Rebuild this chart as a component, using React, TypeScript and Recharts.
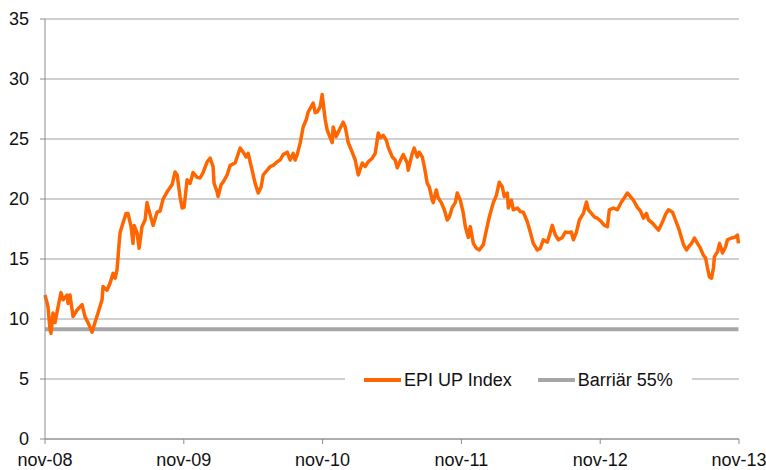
import React from "react";
import { LineChart, Line, XAxis, YAxis, CartesianGrid, Legend } from "recharts";

// time in years since nov-08
const timeYears = [
  0, 0.022, 0.036, 0.043, 0.058, 0.072, 0.094, 0.115, 0.13, 0.159, 0.166, 0.18, 0.202, 0.231, 0.267, 0.288, 0.31, 0.339, 0.36, 0.382,
  0.411, 0.418, 0.447, 0.469, 0.49, 0.505, 0.519, 0.534, 0.541, 0.562, 0.584, 0.598, 0.62, 0.634, 0.642, 0.663, 0.678, 0.699, 0.721, 0.735,
  0.757, 0.779, 0.807, 0.829, 0.851, 0.88, 0.916, 0.937, 0.952, 0.973, 0.988, 1.002, 1.024, 1.045, 1.067, 1.096, 1.117, 1.139, 1.168, 1.19,
  1.211, 1.218, 1.24, 1.247, 1.269, 1.283, 1.312, 1.334, 1.37, 1.406, 1.428, 1.449, 1.464, 1.492, 1.514, 1.536, 1.557, 1.572, 1.601, 1.622,
  1.644, 1.673, 1.694, 1.716, 1.745, 1.766, 1.788, 1.802, 1.817, 1.839, 1.86, 1.882, 1.896, 1.918, 1.932, 1.947, 1.961, 1.983, 1.997, 2.004,
  2.019, 2.033, 2.048, 2.069, 2.076, 2.098, 2.12, 2.148, 2.163, 2.185, 2.213, 2.235, 2.257, 2.286, 2.307, 2.329, 2.358, 2.379, 2.401, 2.415,
  2.437, 2.459, 2.473, 2.502, 2.523, 2.538, 2.56, 2.581, 2.61, 2.617, 2.646, 2.66, 2.682, 2.696, 2.718, 2.733, 2.754, 2.769, 2.79, 2.797,
  2.819, 2.833, 2.855, 2.877, 2.898, 2.913, 2.934, 2.956, 2.97, 2.992, 3.014, 3.028, 3.05, 3.064, 3.086, 3.107, 3.129, 3.158, 3.18, 3.201,
  3.23, 3.252, 3.273, 3.295, 3.309, 3.331, 3.338, 3.36, 3.374, 3.403, 3.425, 3.446, 3.475, 3.497, 3.518, 3.547, 3.569, 3.59, 3.619, 3.641,
  3.655, 3.677, 3.699, 3.727, 3.749, 3.771, 3.792, 3.807, 3.828, 3.85, 3.879, 3.901, 3.915, 3.937, 3.958, 3.98, 4.009, 4.03, 4.052, 4.066,
  4.095, 4.124, 4.153, 4.174, 4.196, 4.218, 4.239, 4.268, 4.29, 4.312, 4.333, 4.348, 4.376, 4.398, 4.42, 4.449, 4.47, 4.492, 4.521, 4.542,
  4.564, 4.585, 4.6, 4.622, 4.636, 4.658, 4.679, 4.701, 4.722, 4.744, 4.759, 4.773, 4.787, 4.802, 4.816, 4.823, 4.845, 4.86, 4.881, 4.903,
  4.917, 4.946, 4.968, 4.989, 4.996,
];

const epiUpIndex = [
  12.0, 11.0, 9.1, 8.8, 10.5, 9.7, 11.0, 12.2, 11.6, 12.0, 11.3, 12.0, 10.2, 10.75, 11.2, 10.2, 9.7, 8.9, 9.7, 10.5,
  11.6, 12.7, 12.4, 13.0, 13.8, 13.4, 14.1, 16.3, 17.2, 18.0, 18.8, 18.8, 17.7, 16.3, 17.8, 17.2, 15.9, 17.7, 18.25, 19.7,
  18.7, 17.8, 18.9, 19.0, 20.0, 20.6, 21.2, 22.25, 22.0, 20.2, 19.25, 19.3, 21.6, 21.3, 22.2, 21.8, 21.75, 22.2, 23.1, 23.4,
  22.7, 21.3, 20.6, 20.2, 21.2, 21.4, 22.0, 22.8, 23.0, 24.25, 23.9, 23.5, 23.8, 22.4, 21.3, 20.5, 21.0, 22.0, 22.4, 22.7,
  22.8, 23.1, 23.25, 23.7, 23.9, 23.25, 23.8, 23.25, 23.7, 24.7, 26.0, 26.6, 27.25, 27.7, 28.0, 27.2, 27.25, 27.7, 28.7, 28.0,
  26.6, 25.75, 25.3, 24.7, 26.0, 25.2, 25.75, 26.4, 26.0, 24.7, 23.9, 23.25, 22.0, 23.0, 22.7, 23.1, 23.4, 23.8, 25.5, 25.1,
  25.3, 24.9, 24.3, 23.5, 23.25, 22.6, 23.2, 23.7, 23.0, 22.4, 23.8, 24.25, 23.5, 23.9, 23.5, 22.7, 21.3, 21.0, 19.9, 19.7,
  20.75, 20.1, 19.7, 19.1, 18.25, 18.5, 19.3, 19.7, 20.5, 19.9, 18.8, 17.7, 16.8, 17.7, 16.3, 15.9, 15.75, 16.2, 17.4, 18.5,
  19.7, 20.3, 21.4, 21.0, 20.2, 20.5, 19.25, 19.9, 19.1, 19.25, 18.95, 18.9, 18.1, 17.2, 16.3, 15.75, 15.9, 16.6, 16.4, 17.25,
  17.8, 17.0, 16.6, 16.8, 17.25, 17.2, 17.25, 16.6, 17.2, 18.25, 18.8, 19.75, 19.1, 18.8, 18.5, 18.4, 18.1, 17.8, 17.7, 19.1,
  19.25, 19.1, 19.75, 20.1, 20.5, 20.2, 19.9, 19.3, 19.0, 18.4, 18.8, 18.25, 18.0, 17.7, 17.4, 18.1, 18.7, 19.1, 18.9, 18.25,
  17.6, 16.8, 16.2, 15.75, 16.0, 16.3, 16.75, 16.3, 15.9, 15.3, 15.1, 14.25, 13.5, 13.4, 14.25, 15.2, 15.6, 16.3, 15.5, 16.0,
  16.6, 16.75, 16.8, 17.0, 16.3,
];

const barrierLevel = 9.15;
const xTickLabels = ["nov-08", "nov-09", "nov-10", "nov-11", "nov-12", "nov-13"];
const xTickValues = [0, 1, 2, 3, 4, 5];
const yTickValues = [0, 5, 10, 15, 20, 25, 30, 35];
const seriesNames = ["EPI UP Index", "Barriär 55%"];
const seriesColors = ["#FF6600", "#A6A6A6"];

const data = timeYears.map((t, i) => ({ t, epi: epiUpIndex[i], barrier: barrierLevel }));

const FONT = "'Liberation Sans', Arial, sans-serif";

const LegendContent = () => (
  <div
    style={{
      display: "flex",
      alignItems: "center",
      height: 26,
      background: "#fff",
      fontFamily: FONT,
      fontSize: 18,
      color: "#111",
    }}
  >
    {seriesNames.map((name, i) => (
      <div key={name} style={{ display: "flex", alignItems: "center", marginLeft: i === 0 ? 19 : 26 }}>
        <div style={{ width: 37, height: 4, background: seriesColors[i], marginRight: 3 }} />
        <span>{name}</span>
      </div>
    ))}
  </div>
);

export default function App() {
  return (
    <div style={{ position: "absolute", left: 0, top: 0, background: "#fff" }}>
      <LineChart width={766} height={470} data={data} margin={{ top: 19, right: 27, left: 0, bottom: 0 }}>
        <CartesianGrid vertical={false} stroke="#A0A0A0" strokeWidth={1} />
        <XAxis
          dataKey="t"
          type="number"
          domain={[0, 5]}
          ticks={xTickValues}
          tickFormatter={(v: number) => xTickLabels[v]}
          height={31}
          tickSize={5}
          tickMargin={9}
          stroke="#8C8C8C"
          tick={{ fill: "#111", fontSize: 18, fontFamily: FONT }}
          interval={0}
        />
        <YAxis
          type="number"
          domain={[0, 35]}
          ticks={yTickValues}
          width={45}
          tickSize={5}
          tickMargin={11}
          stroke="#8C8C8C"
          tick={{ fill: "#111", fontSize: 18, fontFamily: FONT }}
          interval={0}
        />
        <Legend
          layout="horizontal"
          verticalAlign="middle"
          align="center"
          content={<LegendContent />}
          wrapperStyle={{ position: "absolute", left: 345, top: 367, width: 347, height: 26 }}
        />
        <Line
          dataKey="barrier"
          name={seriesNames[1]}
          stroke={seriesColors[1]}
          strokeWidth={4}
          dot={false}
          isAnimationActive={false}
        />
        <Line
          dataKey="epi"
          name={seriesNames[0]}
          stroke={seriesColors[0]}
          strokeWidth={3.5}
          strokeLinejoin="round"
          dot={false}
          isAnimationActive={false}
        />
      </LineChart>
    </div>
  );
}
